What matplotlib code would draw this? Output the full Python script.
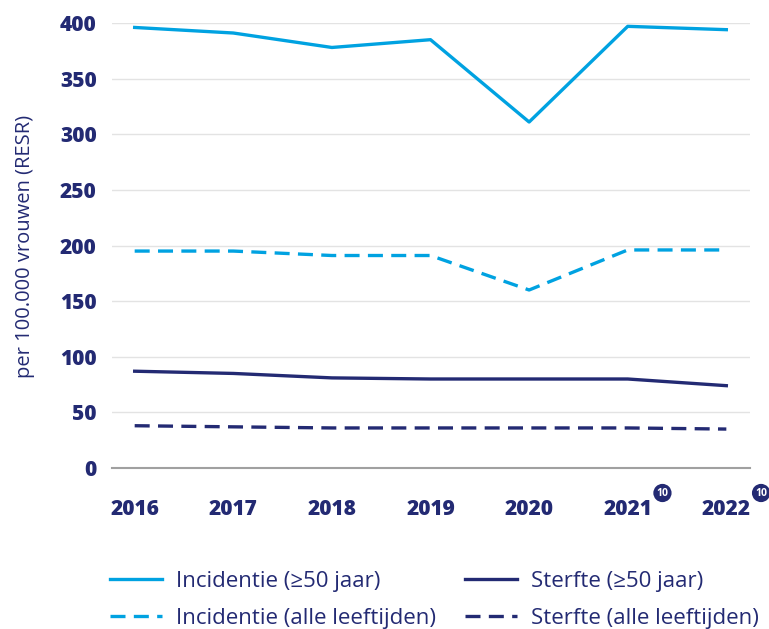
import matplotlib
matplotlib.use("Agg")
import matplotlib.pyplot as plt

plt.rcParams['font.family'] = ['Open Sans', 'DejaVu Sans']

years = [2016, 2017, 2018, 2019, 2020, 2021, 2022]
inc_50 = [396, 391, 378, 385, 311, 397, 394]
inc_all = [195, 195, 191, 191, 160, 196, 196]
sterf_50 = [87, 85, 81, 80, 80, 80, 74]
sterf_all = [38, 37, 36, 36, 36, 36, 35]
footnotes = {2021: "10", 2022: "10"}

light = "#00a2e1"
navy = "#232a73"
dash = (0, (4.5, 2.5))

fig = plt.figure(figsize=(7.69, 6.29), dpi=100)
ax = fig.add_axes([112/769, 1-468/629, (750-112)/769, (468-23)/629])

ax.plot(years, inc_50, color=light, lw=2.4, label="Incidentie (≥50 jaar)")
ax.plot(years, sterf_50, color=navy, lw=2.4, label="Sterfte (≥50 jaar)")
ax.plot(years, inc_all, color=light, lw=2.4, ls=dash, label="Incidentie (alle leeftijden)")
ax.plot(years, sterf_all, color=navy, lw=2.4, ls=dash, label="Sterfte (alle leeftijden)")

ax.set_xlim(2015.77, 2022.24)
ax.set_ylim(0, 400)
ax.set_yticks(range(0, 401, 50))
ax.set_xticks(years)
ax.grid(axis='y', color='#e3e3e3', lw=1)
ax.set_axisbelow(True)
for s in ['top', 'right', 'left']:
    ax.spines[s].set_visible(False)
ax.spines['bottom'].set_color('#a0a0a0')
ax.spines['bottom'].set_linewidth(1.5)
ax.tick_params(length=0)
ax.tick_params(axis='y', pad=11)
ax.tick_params(axis='x', pad=22)
for lab in ax.get_xticklabels() + ax.get_yticklabels():
    lab.set_fontweight('heavy')
    lab.set_color(navy)
    lab.set_fontsize(15)

fig.text(25/769, 1-246/629, "per 100.000 vrouwen (RESR)", rotation=90,
         ha='center', va='center', color=navy, fontsize=14.5)

for yr, note in footnotes.items():
    ax.annotate(note, xy=(yr, 0), xytext=(25, -18), textcoords='offset points',
                ha='center', va='center', fontsize=7.5, fontweight='bold', color='white',
                bbox=dict(boxstyle='circle,pad=0.3', fc=navy, ec='none'),
                annotation_clip=False)

handles, labels = ax.get_legend_handles_labels()
order = [0, 2, 1, 3]
fig.legend([handles[i] for i in order], [labels[i] for i in order],
           loc='upper left', bbox_to_anchor=(110/769, 1-571/629), ncol=2,
           frameon=False, fontsize=16, labelcolor=navy, handlelength=2.35,
           handletextpad=0.6, columnspacing=1.33, labelspacing=0.73,
           borderpad=0, borderaxespad=0)

fig.savefig("out.png", dpi=100)
